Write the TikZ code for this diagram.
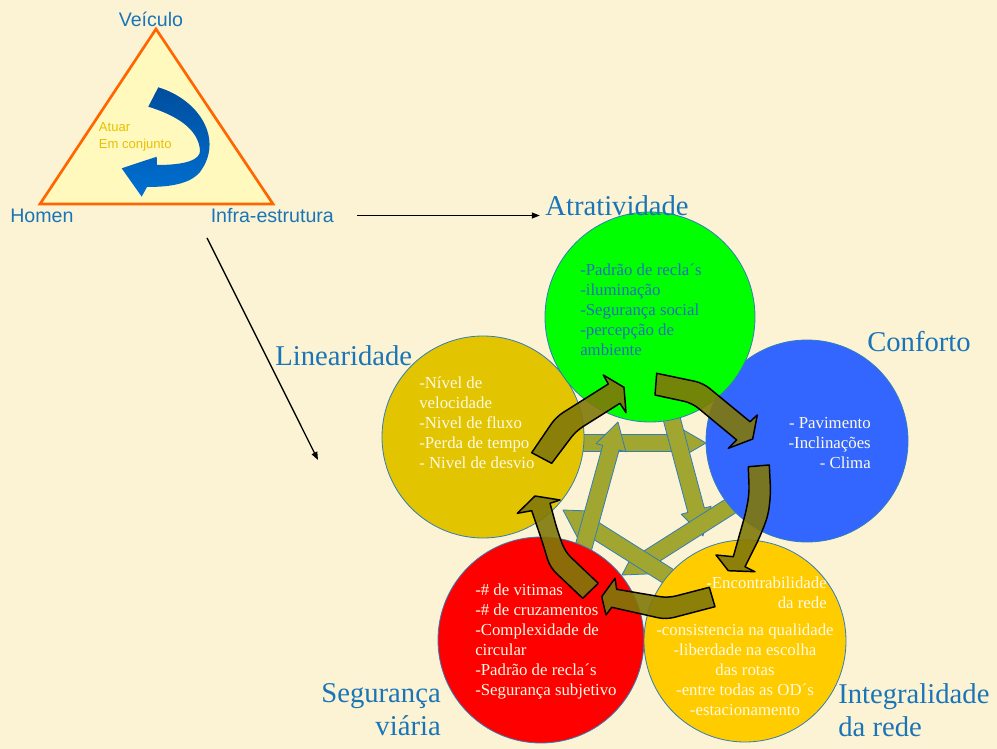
\documentclass[tikz,border=0pt]{standalone}
\usepackage{fontspec}
\setmainfont{Liberation Serif}
\setsansfont{Liberation Sans}
\usetikzlibrary{positioning, arrows.meta, calc}

\definecolor{paper}{RGB}{251,243,211}
\definecolor{lblblue}{RGB}{26,117,184}
\definecolor{atrgreen}{RGB}{0,255,0}
\definecolor{linyellow}{RGB}{226,196,0}
\definecolor{conblue}{RGB}{51,102,255}
\definecolor{segred}{RGB}{255,0,0}
\definecolor{intorange}{RGB}{255,204,0}
\definecolor{ringolive}{RGB}{160,166,48}
\definecolor{flowolive}{RGB}{128,120,10}
\definecolor{edgeblue}{RGB}{50,125,185}
\definecolor{txtcream}{RGB}{255,250,228}
\definecolor{txtblue}{RGB}{40,110,190}
\definecolor{trifill}{RGB}{255,249,190}
\definecolor{triedge}{RGB}{255,102,0}
\definecolor{atuargold}{RGB}{232,192,0}
\definecolor{swoopdark}{RGB}{0,78,158}
\definecolor{swooplight}{RGB}{0,112,210}

\newcommand\ringarrow[2]{%
  \coordinate (ra-h) at ($(#2)!20pt!(#1)$);
  \filldraw[ring] ($(#1)!6.4pt!90:(#2)$) -- ($(ra-h)!6.4pt!90:(#2)$)
    -- ($(ra-h)!11.6pt!90:(#2)$) -- (#2) -- ($(ra-h)!11.6pt!-90:(#2)$)
    -- ($(ra-h)!6.4pt!-90:(#2)$) -- ($(#1)!6.4pt!-90:(#2)$) -- cycle;
}

\begin{document}
\begin{tikzpicture}[x=0.75pt, y=-0.75pt,
  blob/.style={circle, draw=edgeblue, line width=0.6pt, inner sep=0pt},
  ring/.style={fill=ringolive, draw=edgeblue, line width=0.6pt, line join=round},
  flow/.style={fill=flowolive, fill opacity=0.9, draw=black, line width=1.1pt, line join=round},
  itemtxt/.style={font=\fontsize{12.6}{15}\selectfont, inner sep=0pt, text=txtcream},
  biglbl/.style={font=\fontsize{21.5}{24.5}\selectfont, inner sep=0pt, text=lblblue},
  trilbl/.style={font=\sffamily\fontsize{14.7}{17}\selectfont, inner sep=0pt, text=lblblue},
  link/.style={draw=black, line width=1pt, -{Triangle[length=6pt,width=4.5pt]}}]
  \useasboundingbox (0,0) rectangle (997,749);
  \fill[paper] (0,0) rectangle (997,749);

  % triangle
  \coordinate (vtop) at (156,29);
  \coordinate (vleft) at (40,204);
  \coordinate (vright) at (273,204);
  \filldraw[fill=trifill, draw=triedge, line width=2pt] (vtop) -- (vleft) -- (vright) -- cycle;
  \shade[top color=swoopdark, bottom color=swooplight]
    (148.3,106.7) -- (158.3,87.3)
    .. controls (200,100) and (224,140) .. (200,172)
    .. controls (190,184) and (170,187) .. (147,187)
    -- (141.7,196.7) -- (121.7,168.3) -- (156.7,156.7) -- (157,165)
    .. controls (185,165) and (201,160) .. (200,150)
    .. controls (198,128) and (175,115) .. cycle;
  \node[
  trilbl,
  anchor=base
  ] (veic) at (151,26.5) {Veículo};
  \node[
  trilbl,
  anchor=base west
  ] (homen) at (10,222.5) {Homen};
  \node[
  trilbl,
  anchor=base west
  ] (infra) at (210.5,222.5) {Infra-estrutura};
  \node[
  font=\sffamily\fontsize{9.8}{12.5}\selectfont,
  text=atuargold,
  inner sep=0pt,
  align=left,
  anchor=north west
  ] (atuar) at (98.7,122.3) {Atuar\\Em conjunto};

  % ring of light arrows
  \coordinate (ra1) at (560,443); \coordinate (rb1) at (706,443);
  \coordinate (ra2) at (668,405); \coordinate (rb2) at (703,536);
  \coordinate (ra3) at (740,500); \coordinate (rb3) at (622,575);
  \coordinate (ra4) at (690,590); \coordinate (rb4) at (563,510);
  \coordinate (ra5) at (580,560); \coordinate (rb5) at (618,422);
  \foreach \i in {1,...,5}{\ringarrow{ra\i}{rb\i}}

  % circles
  \node[blob, fill=linyellow, minimum size=151.5pt] (lin) at (483,437) {};
  \node[blob, fill=segred, minimum size=154.5pt] (seg) at (541,640) {};
  \node[blob, fill=intorange, minimum size=151.5pt] (int) at (745,641) {};
  \node[blob, fill=conblue, minimum size=151.5pt] (con) at (807,441) {};
  \node[blob, fill=atrgreen, minimum size=157.5pt] (atr) at (650,317) {};

  \node[itemtxt, text=txtblue, align=left, anchor=north west] (atrtxt) at (580,263.5)
    {-Padrão de recla´s\\-iluminação\\-Segurança social\\-percepção de\\ambiente};
  \node[itemtxt, align=left, anchor=north west] (lintxt) at (419,376.5)
    {-Nível de\\velocidade\\-Nivel de fluxo\\-Perda de tempo\\- Nivel de desvio};
  \node[itemtxt, align=right, anchor=north east] (contxt) at (871,417.5)
    {- Pavimento\\-Inclinações\\- Clima};
  \node[itemtxt, align=left, anchor=north west] (segtxt) at (475,583.5)
    {-\# de vitimas\\-\# de cruzamentos\\-Complexidade de\\circular\\-Padrão de recla´s\\-Segurança subjetivo};
  \node[itemtxt, align=right, anchor=north east] (inttxt) at (827,577)
    {-Encontrabilidade\\da rede};
  \node[itemtxt, align=center, anchor=north] (inttxtb) at (745,623.5)
    {-consistencia na qualidade\\-liberdade na escolha\\das rotas\\-entre todas as OD´s\\-estacionamento};

  % flow arrows
  \draw[flow] (531.7,452.7) [rounded corners=6pt] -- (556,417) [sharp corners] -- (608.3,384)
    -- (603.3,375) -- (624,387.3) -- (626,412.7) -- (620,403.3)
    [rounded corners=6pt] -- (576,431) [sharp corners] -- (551.7,463.3) -- cycle;
  \draw[flow] (656.7,373.3) [rounded corners=6pt] -- (703,383) [sharp corners] -- (750,421.7)
    -- (757.3,415) -- (752.7,439) -- (728.3,448.3) -- (736.7,440)
    [rounded corners=6pt] -- (692,403) [sharp corners] -- (655,395) -- cycle;
  \draw[flow] (748.3,466.7) [rounded corners=6pt] -- (749.3,493.3) -- (746,511.7) [sharp corners] -- (733.3,556.7)
    -- (716,555) -- (728.3,570.7) -- (755,571.7) -- (745,566.7)
    [rounded corners=6pt] -- (760,536.7) -- (768.3,515) -- (770.7,493.3) [sharp corners] -- (769.3,465) -- cycle;
  \draw[flow] (709.3,587.3) [rounded corners=6pt] -- (668,598) [sharp corners] -- (616.7,589.3)
    -- (615,578.3) -- (601.7,596.7) -- (606,615) -- (611.7,607.3)
    [rounded corners=6pt] -- (666,619.5) [sharp corners] -- (715,606.7) -- cycle;
  \draw[flow] (582.7,598.3) [rounded corners=6pt] -- (550,567.3) -- (541.7,540) [sharp corners] -- (531.7,510.7)
    -- (517.3,513.3) -- (535,496) -- (560,500) -- (550,503.3)
    [rounded corners=6pt] -- (557.3,530) -- (565,551.7) [sharp corners] -- (598.3,583.3) -- cycle;

  % labels
  \node[biglbl, anchor=base] (atrlbl) at (617,215) {Atratividade};
  \node[biglbl, anchor=base west] (conlbl) at (867,351) {Conforto};
  \node[biglbl, anchor=base west] (linlbl) at (275,365) {Linearidade};
  \node[biglbl, align=right, anchor=north east] (seglbl) at (441,683.5) {Segurança\\viária};
  \node[biglbl, align=left, anchor=north west] (intlbl) at (838,683.5) {Integralidade\\da rede};

  \coordinate (lindrop) at (318,460);
  \draw[link, shorten <=17.5pt, shorten >=4pt] (infra.east) -- (infra.east -| atrlbl.west);
  \draw[link] ([shift={(-3.5,15)}]infra.south west) -- (lindrop);
\end{tikzpicture}
\end{document}
